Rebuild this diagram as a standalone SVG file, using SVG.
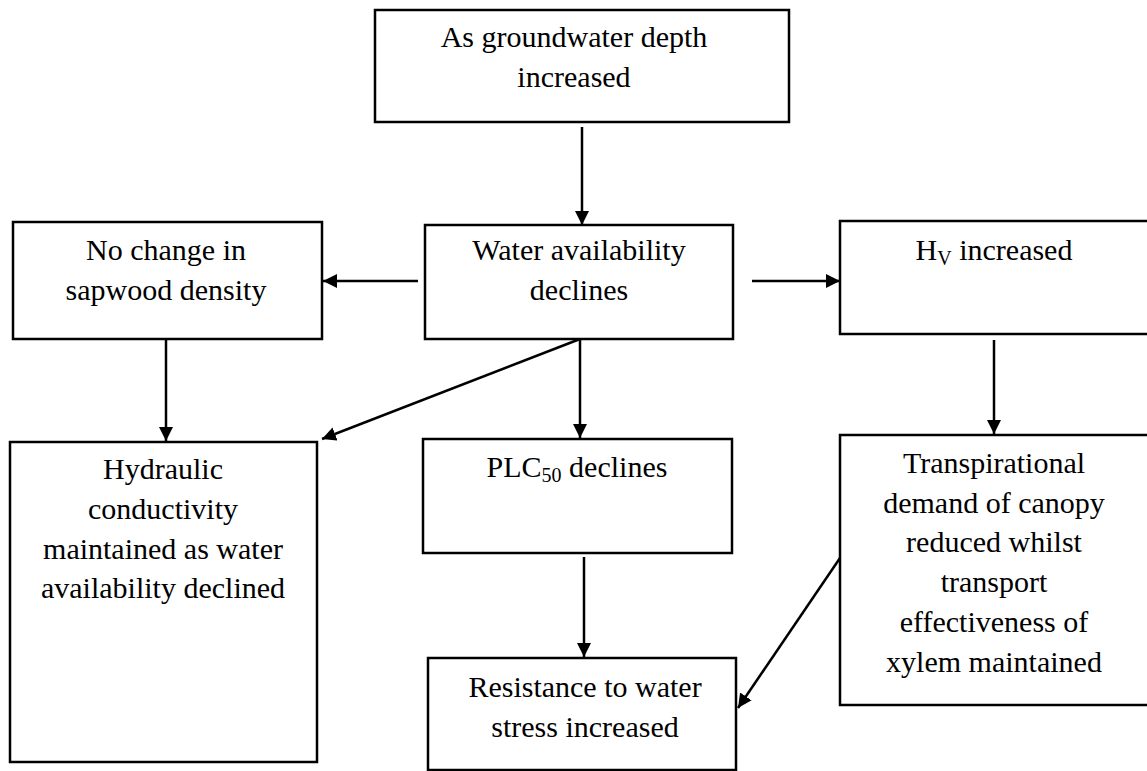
<svg xmlns="http://www.w3.org/2000/svg" width="1147" height="771" viewBox="0 0 1147 771">
  <defs>
    <style>
      .box { fill: #ffffff; stroke: #000000; stroke-width: 2.5; }
      .lbl { font-family: "Liberation Serif", "Times New Roman", serif; font-size: 30px; fill: #000000; text-anchor: middle; }
      .sub { font-size: 20px; }
      .link { stroke: #000000; stroke-width: 2.5; fill: none; marker-end: url(#head); }
    </style>
    <marker id="head" viewBox="0 0 10 10" refX="10" refY="5" markerUnits="userSpaceOnUse" markerWidth="14" markerHeight="14" orient="auto">
      <path d="M0,0 L10,5 L0,10 Z" fill="#000000"/>
    </marker>
  </defs>
  <rect width="1147" height="771" fill="#ffffff"/>

  <!-- connectors -->
  <g id="connectors">
    <line class="link" x1="582" y1="127" x2="582" y2="225"/>
    <line class="link" x1="418" y1="281" x2="323" y2="281"/>
    <line class="link" x1="752" y1="281" x2="840" y2="281"/>
    <line class="link" x1="166" y1="340" x2="166" y2="441"/>
    <line class="link" x1="580" y1="339" x2="322" y2="439"/>
    <line class="link" x1="580" y1="339" x2="580" y2="438"/>
    <line class="link" x1="584" y1="557" x2="584" y2="657"/>
    <line class="link" x1="994" y1="340" x2="994" y2="434"/>
    <line class="link" x1="840" y1="558" x2="738" y2="708"/>
  </g>

  <g id="node-groundwater">
    <rect class="box" x="375" y="10" width="414" height="112"/>
    <text class="lbl" x="574" y="47">As groundwater depth</text>
    <text class="lbl" x="574" y="87">increased</text>
  </g>

  <g id="node-sapwood">
    <rect class="box" x="13" y="222" width="309" height="117"/>
    <text class="lbl" x="166" y="260">No change in</text>
    <text class="lbl" x="166" y="300">sapwood density</text>
  </g>

  <g id="node-water">
    <rect class="box" x="425" y="225" width="308" height="114"/>
    <text class="lbl" x="579" y="260">Water availability</text>
    <text class="lbl" x="579" y="300">declines</text>
  </g>

  <g id="node-hv">
    <rect class="box" x="840" y="221" width="320" height="113"/>
    <text class="lbl" x="994" y="260">H<tspan class="sub" dy="5">V</tspan><tspan dy="-5"> increased</tspan></text>
  </g>

  <g id="node-hydraulic">
    <rect class="box" x="10" y="442" width="307" height="320"/>
    <text class="lbl" x="163" y="479">Hydraulic</text>
    <text class="lbl" x="163" y="519">conductivity</text>
    <text class="lbl" x="163" y="559">maintained as water</text>
    <text class="lbl" x="163" y="598">availability declined</text>
  </g>

  <g id="node-plc">
    <rect class="box" x="423" y="439" width="309" height="114"/>
    <text class="lbl" x="577" y="477">PLC<tspan class="sub" dy="5">50</tspan><tspan dy="-5"> declines</tspan></text>
  </g>

  <g id="node-transpiration">
    <rect class="box" x="840" y="435" width="320" height="270"/>
    <text class="lbl" x="994" y="473">Transpirational</text>
    <text class="lbl" x="994" y="513">demand of canopy</text>
    <text class="lbl" x="994" y="552">reduced whilst</text>
    <text class="lbl" x="994" y="592">transport</text>
    <text class="lbl" x="994" y="632">effectiveness of</text>
    <text class="lbl" x="994" y="672">xylem maintained</text>
  </g>

  <g id="node-resistance">
    <rect class="box" x="428" y="658" width="308" height="112"/>
    <text class="lbl" x="585" y="697">Resistance to water</text>
    <text class="lbl" x="585" y="737">stress increased</text>
  </g>
</svg>
